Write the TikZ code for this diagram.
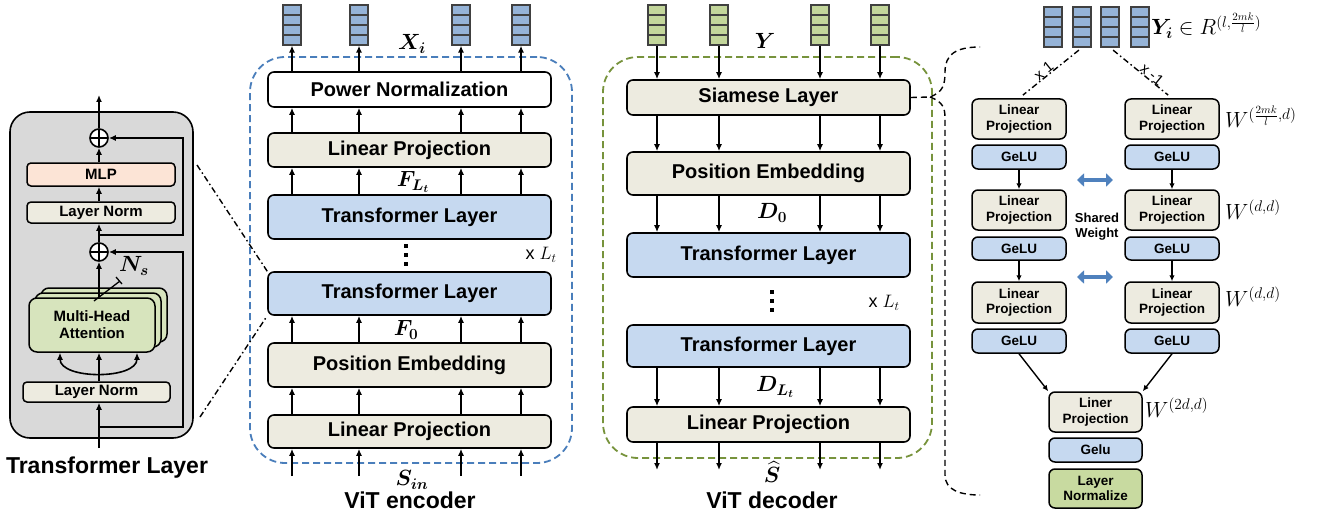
\RequirePackage{fix-cm}
\documentclass[tikz,border=0pt]{standalone}
\usepackage{amsmath,bm}
\usepackage[no-math]{fontspec}
\setmainfont{Liberation Sans}
\setsansfont{Liberation Sans}
\usetikzlibrary{arrows.meta,calc}

\definecolor{beige}{RGB}{237,235,224}
\definecolor{tlblue}{RGB}{198,217,240}
\definecolor{tokblue}{RGB}{149,179,215}
\definecolor{tokgreen}{RGB}{195,214,155}
\definecolor{mhagreen}{RGB}{215,228,189}
\definecolor{mlppink}{RGB}{252,228,214}
\definecolor{panelgray}{RGB}{217,217,217}
\definecolor{encblue}{RGB}{74,126,187}
\definecolor{decgreen}{RGB}{119,147,60}
\definecolor{swblue}{RGB}{79,129,189}
\definecolor{lngreen}{RGB}{200,218,160}

\tikzset{
  arr/.style={line width=1.6pt, -{Latex[length=7pt,width=6pt]}},
  arrs/.style={line width=1.4pt, -{Latex[length=6pt,width=5.5pt]}},
  ebox/.style={draw, line width=1.6pt, rounded corners=6pt, minimum width=283pt, inner sep=0pt,
    font=\fontsize{20}{24}\selectfont\bfseries},
  rbox/.style={draw, line width=1.5pt, rounded corners=6pt, minimum width=94pt, inner sep=0pt,
    align=center, font=\fontsize{13.5}{15.5}\selectfont\bfseries},
  lbox/.style={draw, line width=1.5pt, rounded corners=4pt, inner sep=0pt, align=center,
    font=\fontsize{15}{17}\selectfont\bfseries},
  token/.style={draw=black!75, line width=1.2pt, minimum width=18pt, minimum height=40pt, inner sep=0pt,
    path picture={\foreach \f in {0.25,0.5,0.75} {\draw[black!75, line width=1.2pt]
      ($(path picture bounding box.north west)!\f!(path picture bounding box.south west)$) --
      ($(path picture bounding box.north east)!\f!(path picture bounding box.south east)$);}}},
  plus/.style={circle, draw, line width=1.6pt, fill=white, minimum size=18pt, inner sep=0pt,
    path picture={\draw[line width=1.6pt] (path picture bounding box.west) -- (path picture bounding box.east)
      (path picture bounding box.north) -- (path picture bounding box.south);}},
  vdotsnode/.style={minimum width=5pt, minimum height=22pt, inner sep=0pt,
    path picture={\foreach \f in {0.1,0.5,0.9} {\fill
      ($(path picture bounding box.north)!\f!(path picture bounding box.south)+(-2pt,-2pt)$) rectangle ++(4pt,4pt);}}},
  mlab/.style={font=\fontsize{22}{24}\selectfont, inner sep=0pt},
  wlab/.style={font=\fontsize{22}{24}\selectfont, inner sep=0pt, anchor=west},
  dashdotline/.style={line width=1.4pt, dash pattern=on 6pt off 3pt on 1.5pt off 3pt},
  encdash/.style={draw=encblue, line width=1.8pt, dash pattern=on 7pt off 4pt, rounded corners=35pt},
  decdash/.style={draw=decgreen, line width=1.8pt, dash pattern=on 7pt off 4pt, rounded corners=35pt},
  caption/.style={font=\fontsize{23}{26}\selectfont\bfseries, inner sep=0pt},
  swarrow/.style={line width=4pt, draw=swblue, {Triangle[length=7pt,width=13pt]}-{Triangle[length=7pt,width=13pt]}},
}

\begin{document}
\begin{tikzpicture}[x=1pt,y=-1pt]
\useasboundingbox (0,0) rectangle (1329,516);

% ================= Left panel: Transformer Layer =================
\node[draw, line width=1.6pt, fill=panelgray, rounded corners=20pt, minimum width=183pt, minimum height=326pt] (panel) at (101.5,275) {};
\coordinate (tin) at (99,448);
\coordinate (tout) at (99,95);
\coordinate (rx) at (183,0);
\coordinate (al) at (60,0);
\coordinate (ar) at (137,0);
\coordinate (j1) at (99,427);
\coordinate (j2) at (99,235);

\node[lbox, fill=mlppink, minimum width=148pt, minimum height=23pt] (mlp) at (101,174.5) {MLP};
\node[lbox, fill=beige, minimum width=148pt, minimum height=21pt] (ln1) at (101,212.5) {Layer Norm};
\node[lbox, fill=beige, minimum width=147pt, minimum height=20pt] (ln2) at (96.5,392) {Layer Norm};
\node[lbox, fill=mhagreen, rounded corners=8pt, minimum width=126pt, minimum height=54pt] (mhb2) at (104,315) {};
\node[lbox, fill=mhagreen, rounded corners=8pt, minimum width=126pt, minimum height=54pt] (mhb1) at (98,320) {};
\node[lbox, fill=mhagreen, rounded corners=8pt, minimum width=126pt, minimum height=54pt] (mha) at (92,325) {Multi-Head\\Attention};
\node[plus] (p1) at (99,138) {};
\node[plus] (p2) at (99,252) {};

\draw[arr] (tin) -- (ln2.south -| tin);
\draw[arr] (ln2.north -| tin) -- (mha.south -| tin);
\draw[line width=1.6pt, {Latex[length=7pt,width=6pt]}-{Latex[length=7pt,width=6pt]}] (mha.south -| al) to[out=-90,in=-90,looseness=0.9] (mha.south -| ar);
\draw[arr] (mha.north -| tin) -- (p2.south);
\draw[arr] (p2.north) -- (ln1.south -| tin);
\draw[arr] (ln1.north -| tin) -- (mlp.south -| tin);
\draw[arr] (mlp.north -| tin) -- (p1.south);
\draw[arr] (p1.north) -- (tout);
\draw[arr] (j1) -| (p2.east -| rx) -- (p2.east);
\draw[arr] (j2) -| (p1.east -| rx) -- (p1.east);
\draw[line width=1.3pt] (94,301) -- (120,281) (116,277) -- (122,284);
\node[mlab] (ns) at (134,266) {$\bm{N_s}$};
\node[caption] (tlcap) at (107,468) {Transformer Layer};

% ================= ViT encoder =================
\node[encdash, minimum width=322pt, minimum height=406pt] (encbox) at (411,260) {};
\node[token, fill=tokblue] (et1) at (292,25) {};
\node[token, fill=tokblue] (et2) at (359,25) {};
\node[token, fill=tokblue] (et3) at (461,25) {};
\node[token, fill=tokblue] (et4) at (521,25) {};
\node[ebox, fill=white, minimum height=35pt] (pn) at (409.5,89.5) {Power Normalization};
\node[ebox, fill=beige, minimum height=34pt] (elp1) at (409.5,150) {Linear Projection};
\node[ebox, fill=tlblue, minimum height=44pt] (etl1) at (409.5,217) {Transformer Layer};
\node[ebox, fill=tlblue, minimum height=43pt] (etl2) at (409.5,293.5) {Transformer Layer};
\node[ebox, fill=beige, minimum height=44pt] (epe) at (409.5,365) {Position Embedding};
\node[ebox, fill=beige, minimum height=33pt] (elp2) at (409.5,431.5) {Linear Projection};
\foreach \i in {1,...,4} {
  \coordinate (ein\i) at ($(et\i.south |- 0,476)$);
  \draw[arr] (pn.north -| et\i) -- (et\i.south);
  \draw[arr] (elp1.north -| et\i) -- (pn.south -| et\i);
  \draw[arr] (etl1.north -| et\i) -- (elp1.south -| et\i);
  \draw[arr] (epe.north -| et\i) -- (etl2.south -| et\i);
  \draw[arr] (elp2.north -| et\i) -- (epe.south -| et\i);
  \draw[arr] (ein\i) -- (elp2.south -| et\i);
}
\node[mlab] (xi) at (412,44) {$\bm{X_i}$};
\node[mlab] (fl) at (413,182) {$\bm{F_{L_t}}$};
\node[mlab] (f0) at (406,330) {$\bm{F_0}$};
\node[mlab] (sin) at (412,480) {$\bm{S_{in}}$};
\node[mlab, font=\fontsize{18}{20}\selectfont] (elt) at (541,255) {x $L_t$};
\node[vdotsnode] (edots) at (406,255) {};
\node[caption] (encap) at (410,500) {ViT encoder};

% dash-dot zoom lines
\draw[dashdotline] (197,165) -- (etl2.north west);
\draw[dashdotline] (200,417) -- (etl2.south west);

% ================= ViT decoder =================
\node[decdash, minimum width=329pt, minimum height=401pt] (decbox) at (767.5,257.5) {};
\node[token, fill=tokgreen] (dt1) at (657,25) {};
\node[token, fill=tokgreen] (dt2) at (719,25) {};
\node[token, fill=tokgreen] (dt3) at (820,25) {};
\node[token, fill=tokgreen] (dt4) at (880,25) {};
\node[ebox, fill=beige, minimum height=35pt] (siam) at (768.5,97.5) {Siamese Layer};
\node[ebox, fill=beige, minimum height=43pt] (dpe) at (768.5,173.5) {Position Embedding};
\node[ebox, fill=tlblue, minimum height=44pt] (dtl1) at (768.5,255) {Transformer Layer};
\node[ebox, fill=tlblue, minimum height=42pt] (dtl2) at (768.5,346) {Transformer Layer};
\node[ebox, fill=beige, minimum height=35pt] (dlp) at (768.5,424.5) {Linear Projection};
\foreach \i in {1,...,4} {
  \coordinate (dout\i) at ($(dt\i.south |- 0,470)$);
  \draw[arr] (dt\i.south) -- (siam.north -| dt\i);
  \draw[arr] (siam.south -| dt\i) -- (dpe.north -| dt\i);
  \draw[arr] (dpe.south -| dt\i) -- (dtl1.north -| dt\i);
  \draw[arr] (dtl2.south -| dt\i) -- (dlp.north -| dt\i);
  \draw[arr] (dlp.south -| dt\i) -- (dout\i);
}
\node[mlab] (ylab) at (765,41) {$\bm{Y}$};
\node[mlab] (d0) at (772,213) {$\bm{D_0}$};
\node[mlab] (dlt) at (775,387) {$\bm{D_{L_t}}$};
\node[mlab] (shat) at (772,472) {$\widehat{\bm{S}}$};
\node[mlab, font=\fontsize{18}{20}\selectfont] (dltx) at (884,303) {x $L_t$};
\node[vdotsnode] (ddots) at (772,301) {};
\node[caption] (decap) at (772,500) {ViT decoder};

% ================= Right panel: Siamese layer =================
\draw[line width=1.4pt, dash pattern=on 6pt off 4pt]
  (siam.east) -- (930,97) .. controls (943,92) and (945,85) .. (945,72)
  .. controls (945,55) and (955,47) .. (980,47);
\draw[line width=1.4pt, dash pattern=on 6pt off 4pt]
  (930,97) .. controls (943,102) and (945,108) .. (945,118) -- (945,475)
  .. controls (945,490) and (960,495) .. (980,495);

\node[token, fill=tokblue] (rt1) at (1053,27) {};
\node[token, fill=tokblue] (rt2) at (1082,27) {};
\node[token, fill=tokblue] (rt3) at (1110,27) {};
\node[token, fill=tokblue] (rt4) at (1140,27) {};
\node[mlab, anchor=base west] (yi) at (1151,35) {$\bm{Y_i}\in R^{(l,\frac{2mk}{l})}$};

\foreach \s/\x in {l/1019, r/1172} {
  \node[rbox, fill=beige, minimum height=40pt] (lp1\s) at (\x,119) {Linear\\Projection};
  \node[rbox, fill=tlblue, minimum height=24pt] (g1\s) at (\x,157) {GeLU};
  \node[rbox, fill=beige, minimum height=40pt] (lp2\s) at (\x,210) {Linear\\Projection};
  \node[rbox, fill=tlblue, minimum height=23pt] (g2\s) at (\x,248.5) {GeLU};
  \node[rbox, fill=beige, minimum height=41pt] (lp3\s) at (\x,302.5) {Linear\\Projection};
  \node[rbox, fill=tlblue, minimum height=24pt] (g3\s) at (\x,341) {GeLU};
  \draw[arrs] (g1\s.south) -- (lp2\s.north);
  \draw[arrs] (g2\s.south) -- (lp3\s.north);
}
\node[rbox, fill=beige, minimum width=93pt, minimum height=40pt] (flp) at (1095.5,412) {Liner\\Projection};
\node[rbox, fill=tlblue, minimum width=93pt, minimum height=24pt] (fg) at (1095.5,450) {Gelu};
\node[rbox, fill=lngreen, minimum width=93pt, minimum height=39pt] (fln) at (1095.5,488.5) {Layer\\Normalize};
\draw[arrs] (g3l.south) -- (flp.north west);
\draw[arrs] (g3r.south) -- (flp.north east);

\draw[dashdotline, shorten <=4pt, shorten >=5pt] (rt2.south) -- (lp1l.north)
  node[pos=0.55, sloped, above, inner sep=0pt, font=\fontsize{15}{16}\selectfont] (xone) {x 1};
\draw[dashdotline, shorten <=4pt, shorten >=5pt] (rt3.south) -- (lp1r.north)
  node[pos=0.62, sloped, above, inner sep=0pt, font=\fontsize{15}{16}\selectfont] (xmone) {x -1};

\coordinate (sw1a) at (1077,180);
\coordinate (sw1b) at (1113,180);
\coordinate (sw2a) at (1077,277);
\coordinate (sw2b) at (1113,277);
\draw[swarrow] (sw1a) -- (sw1b);
\draw[swarrow] (sw2a) -- (sw2b);
\node[font=\fontsize{13}{15}\selectfont\bfseries, align=center, inner sep=0pt] (sw) at (1097,227) {Shared\\Weight};

\node[wlab] (w1) at (1225,117) {$W^{(\frac{2mk}{l},d)}$};
\node[wlab] (w2) at (1225,210) {$W^{(d,d)}$};
\node[wlab] (w3) at (1225,297) {$W^{(d,d)}$};
\node[wlab] (w4) at (1145,408) {$W^{(2d,d)}$};
\end{tikzpicture}
\end{document}
